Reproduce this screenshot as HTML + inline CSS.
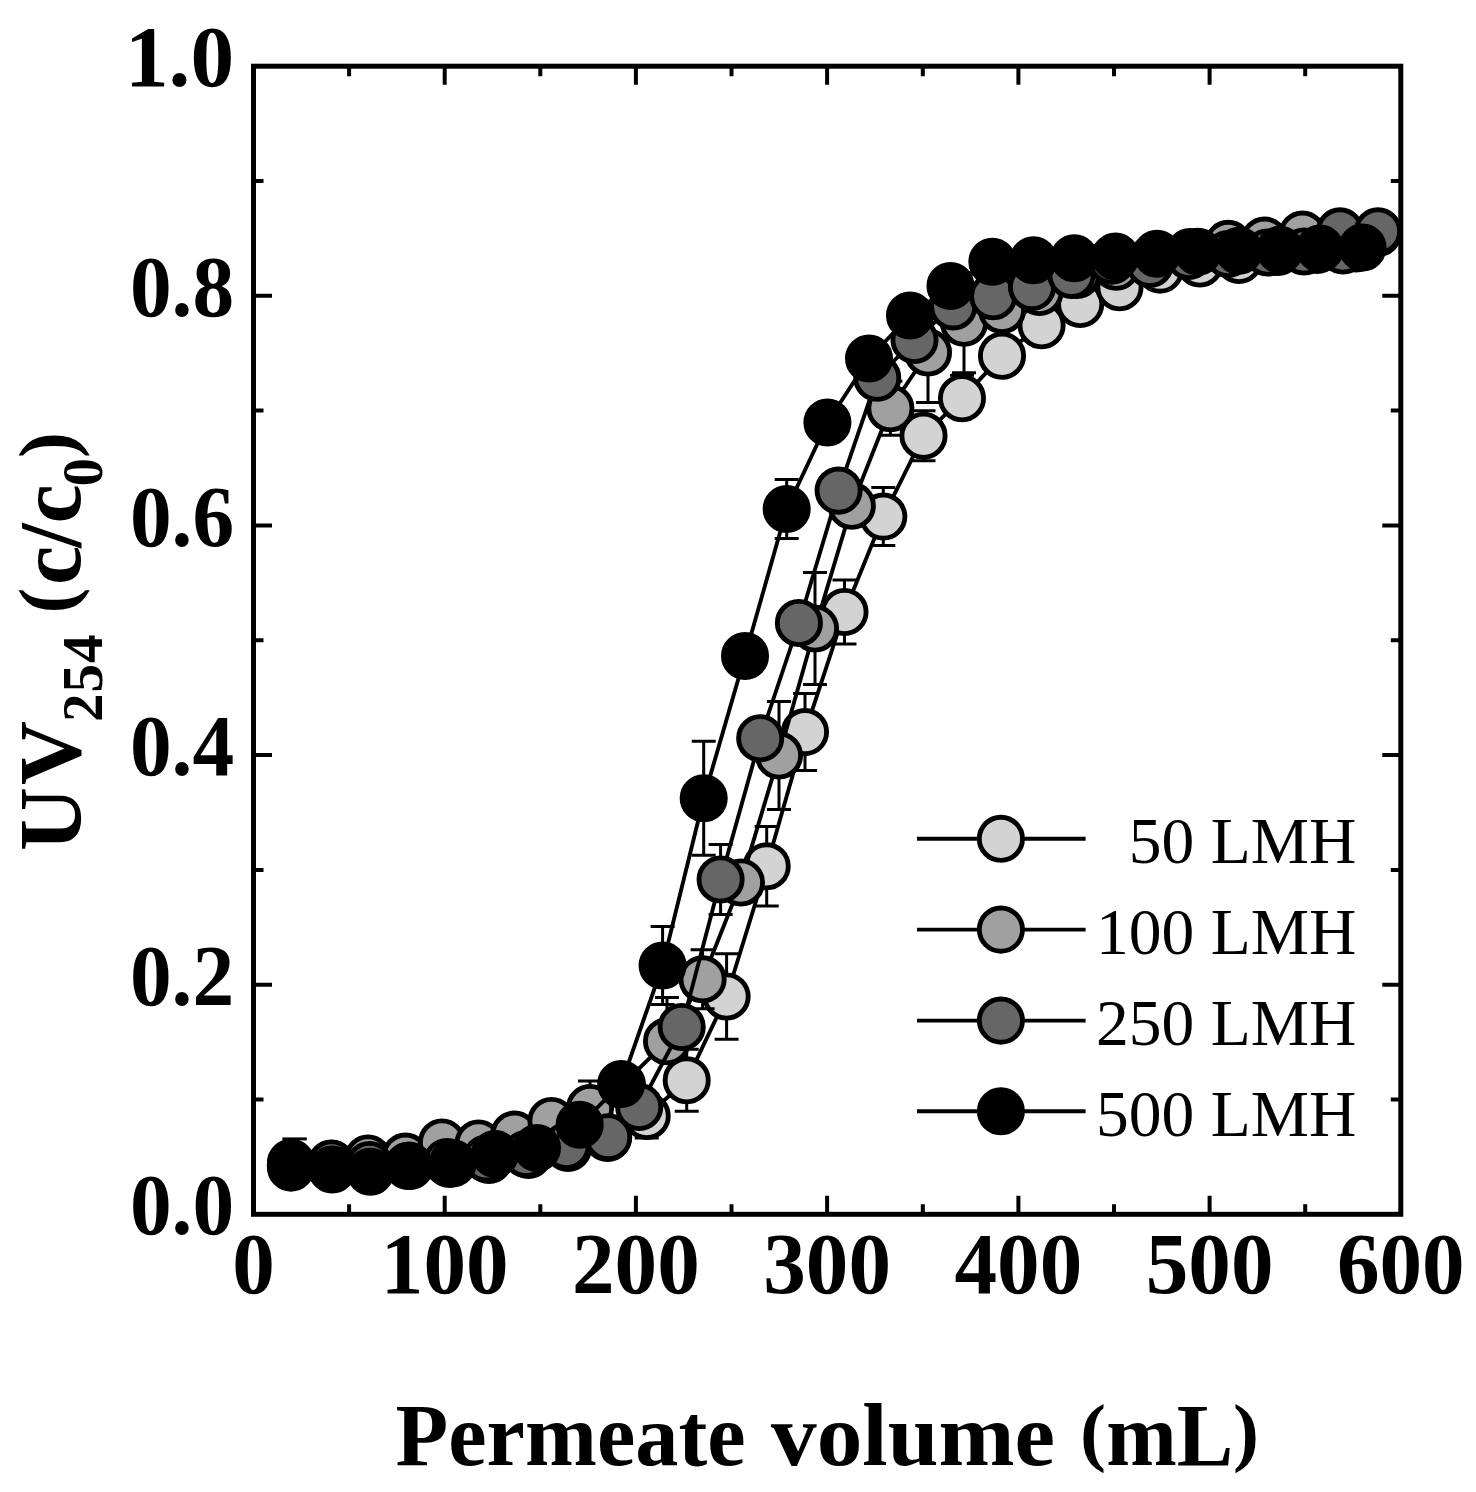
<!DOCTYPE html>
<html><head><meta charset="utf-8"><title>chart</title>
<style>
html,body{margin:0;padding:0;background:#fff;}
body{width:1476px;height:1492px;overflow:hidden;}
svg{display:block;}
text{font-family:"Liberation Serif",serif;fill:#000;}
.b{font-weight:bold;}
</style></head><body>
<svg width="1476" height="1492" viewBox="0 0 1476 1492">
<rect width="1476" height="1492" fill="#fff"/>
<g>
<path d="M646.7 1094.0V1138.0M634.7 1094.0H658.7M634.7 1138.0H658.7" stroke="#000" stroke-width="3" fill="none"/>
<path d="M686.7 1049.3V1111.3M674.7 1049.3H698.7M674.7 1111.3H698.7" stroke="#000" stroke-width="3" fill="none"/>
<path d="M726.6 953.8V1039.2M714.6 953.8H738.6M714.6 1039.2H738.6" stroke="#000" stroke-width="3" fill="none"/>
<path d="M766.7 826.6V906.0M754.7 826.6H778.7M754.7 906.0H778.7" stroke="#000" stroke-width="3" fill="none"/>
<path d="M805.0 693.6V770.6M793.0 693.6H817.0M793.0 770.6H817.0" stroke="#000" stroke-width="3" fill="none"/>
<path d="M844.5 580.0V644.0M832.5 580.0H856.5M832.5 644.0H856.5" stroke="#000" stroke-width="3" fill="none"/>
<path d="M883.3 487.6V545.6M871.3 487.6H895.3M871.3 545.6H895.3" stroke="#000" stroke-width="3" fill="none"/>
<path d="M923.5 410.7V460.7M911.5 410.7H935.5M911.5 460.7H935.5" stroke="#000" stroke-width="3" fill="none"/>
<path d="M962.0 375.3V398.3M950.0 375.3H974.0" stroke="#000" stroke-width="3" fill="none"/>
<polyline fill="none" stroke="#000" stroke-width="3.9" stroke-linejoin="round" points="291.5,1165.0 331.0,1168.0 370.5,1170.0 410.0,1166.0 449.5,1164.0 489.0,1160.0 528.5,1155.0 568.0,1148.0 607.5,1138.0 646.7,1116.0 686.7,1080.3 726.6,996.5 766.7,866.3 805.0,732.1 844.5,612.0 883.3,516.6 923.5,435.7 962.0,398.3 1002.0,355.8 1041.6,325.3 1080.2,304.0 1119.5,287.2 1160.0,269.6 1199.8,263.5 1239.0,260.0 1278.0,252.0 1317.0,250.0 1356.0,248.5"/>
<g fill="#d3d3d3" stroke="#000" stroke-width="4.85"><circle cx="291.5" cy="1165.0" r="21.6"/><circle cx="331.0" cy="1168.0" r="21.6"/><circle cx="370.5" cy="1170.0" r="21.6"/><circle cx="410.0" cy="1166.0" r="21.6"/><circle cx="449.5" cy="1164.0" r="21.6"/><circle cx="489.0" cy="1160.0" r="21.6"/><circle cx="528.5" cy="1155.0" r="21.6"/><circle cx="568.0" cy="1148.0" r="21.6"/><circle cx="607.5" cy="1138.0" r="21.6"/><circle cx="646.7" cy="1116.0" r="21.6"/><circle cx="686.7" cy="1080.3" r="21.6"/><circle cx="726.6" cy="996.5" r="21.6"/><circle cx="766.7" cy="866.3" r="21.6"/><circle cx="805.0" cy="732.1" r="21.6"/><circle cx="844.5" cy="612.0" r="21.6"/><circle cx="883.3" cy="516.6" r="21.6"/><circle cx="923.5" cy="435.7" r="21.6"/><circle cx="962.0" cy="398.3" r="21.6"/><circle cx="1002.0" cy="355.8" r="21.6"/><circle cx="1041.6" cy="325.3" r="21.6"/><circle cx="1080.2" cy="304.0" r="21.6"/><circle cx="1119.5" cy="287.2" r="21.6"/><circle cx="1160.0" cy="269.6" r="21.6"/><circle cx="1199.8" cy="263.5" r="21.6"/><circle cx="1239.0" cy="260.0" r="21.6"/><circle cx="1278.0" cy="252.0" r="21.6"/><circle cx="1317.0" cy="250.0" r="21.6"/><circle cx="1356.0" cy="248.5" r="21.6"/></g>
<path d="M590.0 1081.0V1135.0M578.0 1081.0H602.0M578.0 1135.0H602.0" stroke="#000" stroke-width="3" fill="none"/>
<path d="M667.0 997.6V1041.3M655.0 997.6H679.0" stroke="#000" stroke-width="3" fill="none"/>
<path d="M702.6 949.8V1008.8M690.6 949.8H714.6M690.6 1008.8H714.6" stroke="#000" stroke-width="3" fill="none"/>
<path d="M779.0 701.5V809.5M767.0 701.5H791.0M767.0 809.5H791.0" stroke="#000" stroke-width="3" fill="none"/>
<path d="M815.0 572.5V684.5M803.0 572.5H827.0M803.0 684.5H827.0" stroke="#000" stroke-width="3" fill="none"/>
<path d="M890.4 381.3V435.3M878.4 381.3H902.4M878.4 435.3H902.4" stroke="#000" stroke-width="3" fill="none"/>
<path d="M928.0 302.5V402.5M916.0 302.5H940.0M916.0 402.5H940.0" stroke="#000" stroke-width="3" fill="none"/>
<path d="M964.0 272.7V372.7M952.0 272.7H976.0M952.0 372.7H976.0" stroke="#000" stroke-width="3" fill="none"/>
<polyline fill="none" stroke="#000" stroke-width="3.9" stroke-linejoin="round" points="291.0,1162.8 331.3,1163.8 368.0,1158.5 405.5,1156.6 442.0,1142.5 478.5,1143.5 514.5,1134.6 551.5,1121.0 590.0,1108.0 622.0,1085.0 667.0,1041.3 702.6,979.3 741.0,882.5 779.0,755.5 815.0,628.5 851.8,505.8 890.4,408.3 928.0,352.5 964.0,322.7 1002.0,310.0 1039.5,292.0 1077.0,275.0 1116.2,266.7 1153.0,258.0 1190.0,252.0 1228.2,243.9 1264.5,240.6 1302.5,234.6 1340.0,233.0 1378.0,233.0"/>
<g fill="#a0a0a0" stroke="#000" stroke-width="4.85"><circle cx="291.0" cy="1162.8" r="21.6"/><circle cx="331.3" cy="1163.8" r="21.6"/><circle cx="368.0" cy="1158.5" r="21.6"/><circle cx="405.5" cy="1156.6" r="21.6"/><circle cx="442.0" cy="1142.5" r="21.6"/><circle cx="478.5" cy="1143.5" r="21.6"/><circle cx="514.5" cy="1134.6" r="21.6"/><circle cx="551.5" cy="1121.0" r="21.6"/><circle cx="590.0" cy="1108.0" r="21.6"/><circle cx="622.0" cy="1085.0" r="21.6"/><circle cx="667.0" cy="1041.3" r="21.6"/><circle cx="702.6" cy="979.3" r="21.6"/><circle cx="741.0" cy="882.5" r="21.6"/><circle cx="779.0" cy="755.5" r="21.6"/><circle cx="815.0" cy="628.5" r="21.6"/><circle cx="851.8" cy="505.8" r="21.6"/><circle cx="890.4" cy="408.3" r="21.6"/><circle cx="928.0" cy="352.5" r="21.6"/><circle cx="964.0" cy="322.7" r="21.6"/><circle cx="1002.0" cy="310.0" r="21.6"/><circle cx="1039.5" cy="292.0" r="21.6"/><circle cx="1077.0" cy="275.0" r="21.6"/><circle cx="1116.2" cy="266.7" r="21.6"/><circle cx="1153.0" cy="258.0" r="21.6"/><circle cx="1190.0" cy="252.0" r="21.6"/><circle cx="1228.2" cy="243.9" r="21.6"/><circle cx="1264.5" cy="240.6" r="21.6"/><circle cx="1302.5" cy="234.6" r="21.6"/><circle cx="1340.0" cy="233.0" r="21.6"/><circle cx="1378.0" cy="233.0" r="21.6"/></g>
<path d="M720.6 844.5V914.5M708.6 844.5H732.6M708.6 914.5H732.6" stroke="#000" stroke-width="3" fill="none"/>
<polyline fill="none" stroke="#000" stroke-width="3.9" stroke-linejoin="round" points="291.0,1167.6 331.5,1163.5 369.5,1165.0 408.0,1166.0 447.0,1162.0 486.3,1158.4 526.0,1154.0 566.5,1146.0 608.2,1137.2 639.2,1107.0 681.7,1027.0 720.6,879.5 760.2,738.2 798.9,623.0 838.6,490.6 877.2,377.8 914.5,340.0 953.2,306.4 993.2,296.3 1032.0,287.1 1071.5,274.9 1111.7,260.7 1150.0,264.0 1189.0,256.0 1228.0,254.0 1267.5,252.5 1304.0,251.5 1343.0,250.5"/>
<g fill="#666666" stroke="#000" stroke-width="4.85"><circle cx="291.0" cy="1167.6" r="21.6"/><circle cx="331.5" cy="1163.5" r="21.6"/><circle cx="369.5" cy="1165.0" r="21.6"/><circle cx="408.0" cy="1166.0" r="21.6"/><circle cx="447.0" cy="1162.0" r="21.6"/><circle cx="486.3" cy="1158.4" r="21.6"/><circle cx="526.0" cy="1154.0" r="21.6"/><circle cx="566.5" cy="1146.0" r="21.6"/><circle cx="608.2" cy="1137.2" r="21.6"/><circle cx="639.2" cy="1107.0" r="21.6"/><circle cx="681.7" cy="1027.0" r="21.6"/><circle cx="720.6" cy="879.5" r="21.6"/><circle cx="760.2" cy="738.2" r="21.6"/><circle cx="798.9" cy="623.0" r="21.6"/><circle cx="838.6" cy="490.6" r="21.6"/><circle cx="877.2" cy="377.8" r="21.6"/><circle cx="914.5" cy="340.0" r="21.6"/><circle cx="953.2" cy="306.4" r="21.6"/><circle cx="993.2" cy="296.3" r="21.6"/><circle cx="1032.0" cy="287.1" r="21.6"/><circle cx="1071.5" cy="274.9" r="21.6"/><circle cx="1111.7" cy="260.7" r="21.6"/><circle cx="1150.0" cy="264.0" r="21.6"/><circle cx="1189.0" cy="256.0" r="21.6"/><circle cx="1228.0" cy="254.0" r="21.6"/><circle cx="1267.5" cy="252.5" r="21.6"/><circle cx="1304.0" cy="251.5" r="21.6"/><circle cx="1343.0" cy="250.5" r="21.6"/><circle cx="1340.0" cy="231.3" r="21.6"/><circle cx="1378.0" cy="231.3" r="21.6"/></g>
<path d="M662.6 926.4V1004.4M650.6 926.4H674.6M650.6 1004.4H674.6" stroke="#000" stroke-width="3" fill="none"/>
<path d="M703.7 741.3V855.3M691.7 741.3H715.7M691.7 855.3H715.7" stroke="#000" stroke-width="3" fill="none"/>
<path d="M786.7 479.5V538.5M774.7 479.5H798.7M774.7 538.5H798.7" stroke="#000" stroke-width="3" fill="none"/>
<polyline fill="none" stroke="#000" stroke-width="3.9" stroke-linejoin="round" points="290.8,1165.2 332.2,1169.5 370.3,1171.8 409.0,1165.5 452.8,1163.3 495.0,1154.0 537.0,1148.0 579.7,1124.8 621.2,1084.0 662.6,965.4 703.7,798.3 745.0,656.0 786.7,509.0 827.4,422.5 869.0,358.5 910.0,315.5 950.5,286.0 992.4,261.7 1033.5,260.3 1074.3,258.3 1115.5,256.6 1157.0,253.7 1198.0,251.8 1239.0,250.8 1280.0,249.7 1320.0,248.6 1362.5,247.5"/>
<g fill="#000000" stroke="#000" stroke-width="4.85"><circle cx="290.8" cy="1165.2" r="21.6"/><circle cx="332.2" cy="1169.5" r="21.6"/><circle cx="370.3" cy="1171.8" r="21.6"/><circle cx="409.0" cy="1165.5" r="21.6"/><circle cx="452.8" cy="1163.3" r="21.6"/><circle cx="495.0" cy="1154.0" r="21.6"/><circle cx="537.0" cy="1148.0" r="21.6"/><circle cx="579.7" cy="1124.8" r="21.6"/><circle cx="621.2" cy="1084.0" r="21.6"/><circle cx="662.6" cy="965.4" r="21.6"/><circle cx="703.7" cy="798.3" r="21.6"/><circle cx="745.0" cy="656.0" r="21.6"/><circle cx="786.7" cy="509.0" r="21.6"/><circle cx="827.4" cy="422.5" r="21.6"/><circle cx="869.0" cy="358.5" r="21.6"/><circle cx="910.0" cy="315.5" r="21.6"/><circle cx="950.5" cy="286.0" r="21.6"/><circle cx="992.4" cy="261.7" r="21.6"/><circle cx="1033.5" cy="260.3" r="21.6"/><circle cx="1074.3" cy="258.3" r="21.6"/><circle cx="1115.5" cy="256.6" r="21.6"/><circle cx="1157.0" cy="253.7" r="21.6"/><circle cx="1198.0" cy="251.8" r="21.6"/><circle cx="1239.0" cy="250.8" r="21.6"/><circle cx="1280.0" cy="249.7" r="21.6"/><circle cx="1320.0" cy="248.6" r="21.6"/><circle cx="1362.5" cy="247.5" r="21.6"/></g>
</g>
<path d="M282.4 1138.9H306.8" stroke="#000" stroke-width="3" fill="none"/>
<path d="M349.1 1214.3V1204.3M349.1 66.2V76.2M444.7 1214.3V1195.8M444.7 66.2V84.7M540.3 1214.3V1204.3M540.3 66.2V76.2M635.9 1214.3V1195.8M635.9 66.2V84.7M731.5 1214.3V1204.3M731.5 66.2V76.2M827.1 1214.3V1195.8M827.1 66.2V84.7M922.8 1214.3V1204.3M922.8 66.2V76.2M1018.4 1214.3V1195.8M1018.4 66.2V84.7M1114.0 1214.3V1204.3M1114.0 66.2V76.2M1209.6 1214.3V1195.8M1209.6 66.2V84.7M1305.2 1214.3V1204.3M1305.2 66.2V76.2M253.5 1099.5H263.5M1400.8 1099.5H1390.8M253.5 984.7H272.0M1400.8 984.7H1382.3M253.5 869.9H263.5M1400.8 869.9H1390.8M253.5 755.1H272.0M1400.8 755.1H1382.3M253.5 640.2H263.5M1400.8 640.2H1390.8M253.5 525.4H272.0M1400.8 525.4H1382.3M253.5 410.6H263.5M1400.8 410.6H1390.8M253.5 295.8H272.0M1400.8 295.8H1382.3M253.5 181.0H263.5M1400.8 181.0H1390.8" stroke="#000" stroke-width="4" fill="none"/>
<rect x="253.5" y="66.2" width="1147.3" height="1148.1" fill="none" stroke="#000" stroke-width="5"/>
<text class="b" transform="translate(253.5,1293.4) scale(0.973,1)" font-size="87.5" text-anchor="middle">0</text>
<text class="b" transform="translate(444.7,1293.4) scale(0.973,1)" font-size="87.5" text-anchor="middle">100</text>
<text class="b" transform="translate(635.9,1293.4) scale(0.973,1)" font-size="87.5" text-anchor="middle">200</text>
<text class="b" transform="translate(827.1,1293.4) scale(0.973,1)" font-size="87.5" text-anchor="middle">300</text>
<text class="b" transform="translate(1018.4,1293.4) scale(0.973,1)" font-size="87.5" text-anchor="middle">400</text>
<text class="b" transform="translate(1209.6,1293.4) scale(0.973,1)" font-size="87.5" text-anchor="middle">500</text>
<text class="b" transform="translate(1400.8,1293.4) scale(0.973,1)" font-size="87.5" text-anchor="middle">600</text>
<text class="b" transform="translate(234.1,1234.4) scale(0.955,1)" font-size="87.3" text-anchor="end">0.0</text>
<text class="b" transform="translate(234.1,1004.8) scale(0.955,1)" font-size="87.3" text-anchor="end">0.2</text>
<text class="b" transform="translate(234.1,775.2) scale(0.955,1)" font-size="87.3" text-anchor="end">0.4</text>
<text class="b" transform="translate(234.1,545.5) scale(0.955,1)" font-size="87.3" text-anchor="end">0.6</text>
<text class="b" transform="translate(234.1,315.9) scale(0.955,1)" font-size="87.3" text-anchor="end">0.8</text>
<text class="b" transform="translate(234.1,85.6) scale(1.0,1)" font-size="87.3" text-anchor="end">1.0</text>
<text class="b" x="395.5" y="1464.9" font-size="88.5" textLength="350" lengthAdjust="spacingAndGlyphs">Permeate</text>
<text class="b" x="771" y="1464.9" font-size="88.5" textLength="284" lengthAdjust="spacingAndGlyphs">volume</text>
<text class="b" x="1080" y="1457" font-size="76.7" textLength="26" lengthAdjust="spacingAndGlyphs">(</text>
<text class="b" x="1106.3" y="1464.9" font-size="88.5" textLength="127" lengthAdjust="spacingAndGlyphs">mL</text>
<text class="b" x="1233" y="1457" font-size="76.7" textLength="26" lengthAdjust="spacingAndGlyphs">)</text>
<g transform="translate(80.3,851) rotate(-90)"><text class="b" x="0" y="0" font-size="88.5">U</text><text class="b" x="65.9" y="0" font-size="88.5">V</text><text class="b" x="129" y="22" font-size="57">2</text><text class="b" x="158.5" y="22" font-size="57">5</text><text class="b" x="188" y="22" font-size="57">4</text><text class="b" x="237.5" y="-7.5" font-size="77.7">(</text><text class="b" x="266" y="0" font-size="88.5">c</text><text class="b" x="303" y="0" font-size="88.5">/</text><text class="b" x="327.5" y="0" font-size="88.5">c</text><text class="b" x="364.5" y="22" font-size="57">0</text><text class="b" x="393" y="-7.5" font-size="77.7">)</text></g>
<line x1="917" x2="1085.6" y1="838.8" y2="838.8" stroke="#000" stroke-width="3.9"/>
<circle cx="1000.9" cy="838.8" r="21.6" fill="#d3d3d3" stroke="#000" stroke-width="4.85"/>
<text x="1356.3" y="863.2" font-size="65.5" text-anchor="end">50 LMH</text>
<line x1="917" x2="1085.6" y1="929.6" y2="929.6" stroke="#000" stroke-width="3.9"/>
<circle cx="1000.9" cy="929.6" r="21.6" fill="#a0a0a0" stroke="#000" stroke-width="4.85"/>
<text x="1356.3" y="954.0" font-size="65.5" text-anchor="end">100 LMH</text>
<line x1="917" x2="1085.6" y1="1020.6" y2="1020.6" stroke="#000" stroke-width="3.9"/>
<circle cx="1000.9" cy="1020.6" r="21.6" fill="#666666" stroke="#000" stroke-width="4.85"/>
<text x="1356.3" y="1045.0" font-size="65.5" text-anchor="end">250 LMH</text>
<line x1="917" x2="1085.6" y1="1111.3" y2="1111.3" stroke="#000" stroke-width="3.9"/>
<circle cx="1000.9" cy="1111.3" r="21.6" fill="#000000" stroke="#000" stroke-width="4.85"/>
<text x="1356.3" y="1135.7" font-size="65.5" text-anchor="end">500 LMH</text>
</svg></body></html>
